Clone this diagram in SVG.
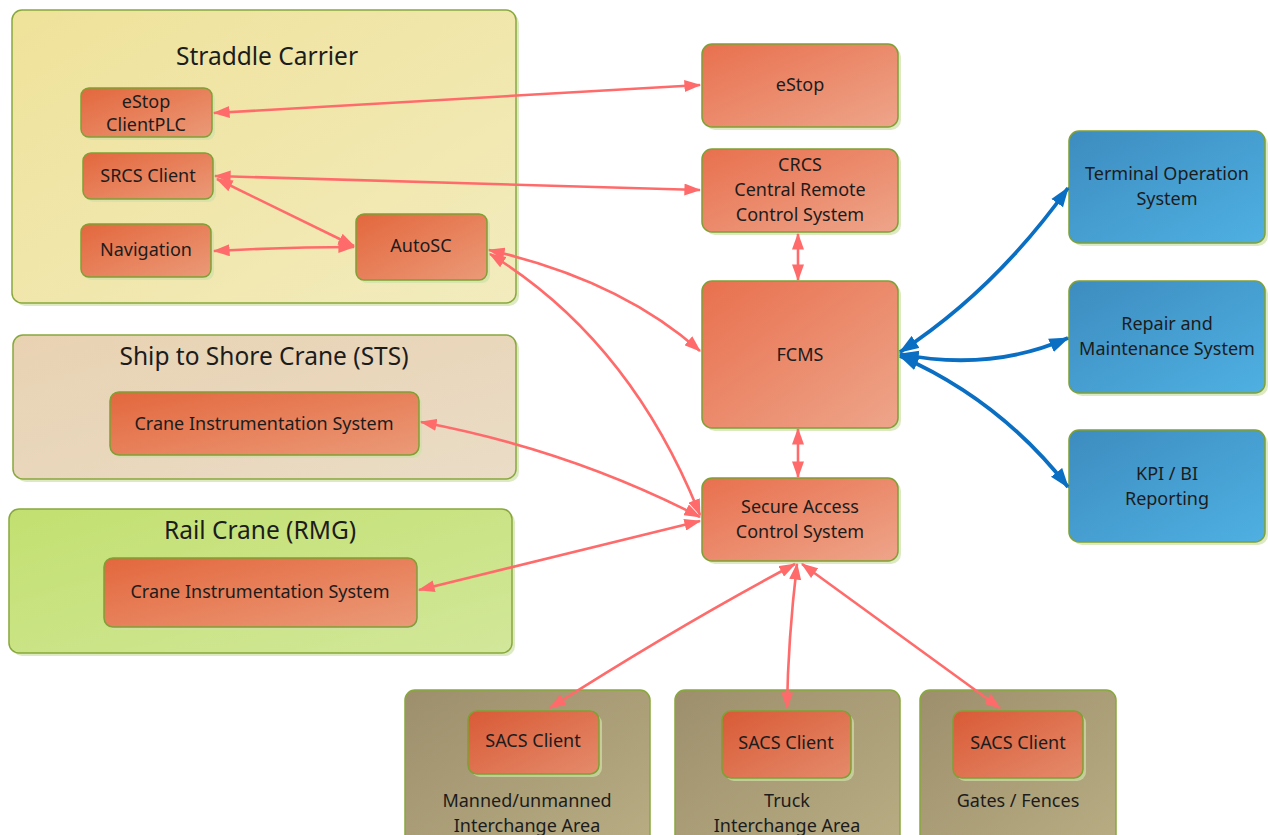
<svg xmlns="http://www.w3.org/2000/svg" width="1268" height="835" viewBox="0 0 1268 835">
  <style>
    text { font-family: "Noto Sans", "Open Sans", "Liberation Sans", sans-serif; fill: #1c1c1c; text-anchor: middle; }
    .lbl { font-size: 18px; }
    .ttl { font-size: 24.5px; }
    .frame { stroke: #88a83c; stroke-width: 1.5; }
    .node { stroke: #7fa035; stroke-width: 1.5; }
    .shadow { fill: #cfe0a8; opacity: 0.7; }
    .link { fill: none; stroke: #ff6b6b; stroke-width: 2.6; marker-start: url(#ah); marker-end: url(#ah); }
    .blink { fill: none; stroke: #0a6fc2; stroke-width: 3.8; marker-start: url(#bh); marker-end: url(#bh); }
  </style>
  <defs>
    <linearGradient id="gOrange" x1="0" y1="0" x2="1" y2="1">
      <stop offset="0" stop-color="#e8704e"/>
      <stop offset="1" stop-color="#eea58a"/>
    </linearGradient>
    <linearGradient id="gOrangeDeep" x1="0" y1="0" x2="1" y2="1">
      <stop offset="0" stop-color="#e3673d"/>
      <stop offset="1" stop-color="#eb9a78"/>
    </linearGradient>
    <linearGradient id="gSacs" x1="0" y1="0" x2="1" y2="1">
      <stop offset="0" stop-color="#d95a36"/>
      <stop offset="1" stop-color="#e48b6b"/>
    </linearGradient>
    <linearGradient id="gBlue" x1="0" y1="0" x2="1" y2="1">
      <stop offset="0" stop-color="#3d8cbf"/>
      <stop offset="1" stop-color="#4fb0e2"/>
    </linearGradient>
    <linearGradient id="gStraddle" x1="0" y1="0" x2="1" y2="1">
      <stop offset="0" stop-color="#efe29a"/>
      <stop offset="1" stop-color="#f2ebbd"/>
    </linearGradient>
    <linearGradient id="gSts" x1="0" y1="0" x2="1" y2="1">
      <stop offset="0" stop-color="#e8d2b2"/>
      <stop offset="1" stop-color="#eadcc6"/>
    </linearGradient>
    <linearGradient id="gRmg" x1="0" y1="0" x2="1" y2="1">
      <stop offset="0" stop-color="#c2e070"/>
      <stop offset="1" stop-color="#d2e79a"/>
    </linearGradient>
    <linearGradient id="gArea" x1="0" y1="0" x2="1" y2="1">
      <stop offset="0" stop-color="#9d8f6c"/>
      <stop offset="1" stop-color="#b8ad83"/>
    </linearGradient>
    <marker id="ah" viewBox="0 0 14 10" refX="13" refY="5" markerWidth="17" markerHeight="12" markerUnits="userSpaceOnUse" orient="auto-start-reverse">
      <path d="M0,0 L14,5 L0,10 Z" fill="#ff6b6b"/>
    </marker>
    <marker id="bh" viewBox="0 0 14 10" refX="13" refY="5" markerWidth="20" markerHeight="15" markerUnits="userSpaceOnUse" orient="auto-start-reverse">
      <path d="M0,0 L14,5 L0,10 Z" fill="#0a6fc2"/>
    </marker>
  </defs>

  <rect width="1268" height="835" fill="#ffffff"/>

  <!-- container areas -->
  <g id="straddle-carrier">
    <rect class="shadow" x="15" y="13" width="504" height="293" rx="10"/>
    <rect class="frame" x="12" y="10" width="504" height="293" rx="10" fill="url(#gStraddle)"/>
    <text class="ttl" x="267" y="65">Straddle Carrier</text>
  </g>
  <g id="sts-crane">
    <rect class="shadow" x="16" y="338" width="503" height="144" rx="10"/>
    <rect class="frame" x="13" y="335" width="503" height="144" rx="10" fill="url(#gSts)"/>
    <text class="ttl" x="264" y="365">Ship to Shore Crane (STS)</text>
  </g>
  <g id="rail-crane">
    <rect class="shadow" x="12" y="512" width="503" height="144" rx="10"/>
    <rect class="frame" x="9" y="509" width="503" height="144" rx="10" fill="url(#gRmg)"/>
    <text class="ttl" x="260" y="539">Rail Crane (RMG)</text>
  </g>
  <g id="area-manned">
    <rect class="frame" x="405" y="690" width="245" height="160" rx="10" fill="url(#gArea)"/>
    <text class="lbl" x="527" y="807">Manned/unmanned</text>
    <text class="lbl" x="527" y="832">Interchange Area</text>
  </g>
  <g id="area-truck">
    <rect class="frame" x="675" y="690" width="225" height="160" rx="10" fill="url(#gArea)"/>
    <text class="lbl" x="787" y="807">Truck</text>
    <text class="lbl" x="787" y="832">Interchange Area</text>
  </g>
  <g id="area-gates">
    <rect class="frame" x="920" y="690" width="196" height="160" rx="10" fill="url(#gArea)"/>
    <text class="lbl" x="1018" y="807">Gates / Fences</text>
  </g>

  <!-- nodes inside the straddle carrier -->
  <g id="estop-client">
    <rect class="shadow" x="84" y="91" width="131" height="49" rx="8"/>
    <rect class="node" x="81" y="88" width="131" height="49" rx="8" fill="url(#gOrangeDeep)"/>
    <text class="lbl" x="146" y="108">eStop</text>
    <text class="lbl" x="146" y="131">ClientPLC</text>
  </g>
  <g id="srcs-client">
    <rect class="shadow" x="86" y="156" width="130" height="46" rx="8"/>
    <rect class="node" x="83" y="153" width="130" height="46" rx="8" fill="url(#gOrangeDeep)"/>
    <text class="lbl" x="148" y="182">SRCS Client</text>
  </g>
  <g id="navigation">
    <rect class="shadow" x="84" y="227" width="130" height="53" rx="8"/>
    <rect class="node" x="81" y="224" width="130" height="53" rx="8" fill="url(#gOrangeDeep)"/>
    <text class="lbl" x="146" y="256">Navigation</text>
  </g>
  <g id="autosc">
    <rect class="shadow" x="359" y="217" width="131" height="66" rx="8"/>
    <rect class="node" x="356" y="214" width="131" height="66" rx="8" fill="url(#gOrangeDeep)"/>
    <text class="lbl" x="421" y="252">AutoSC</text>
  </g>

  <!-- crane instrumentation nodes -->
  <g id="sts-cis">
    <rect class="shadow" x="113" y="395" width="309" height="63" rx="9"/>
    <rect class="node" x="110" y="392" width="309" height="63" rx="9" fill="url(#gOrangeDeep)"/>
    <text class="lbl" x="264" y="430">Crane Instrumentation System</text>
  </g>
  <g id="rmg-cis">
    <rect class="shadow" x="107" y="561" width="313" height="69" rx="9"/>
    <rect class="node" x="104" y="558" width="313" height="69" rx="9" fill="url(#gOrangeDeep)"/>
    <text class="lbl" x="260" y="598">Crane Instrumentation System</text>
  </g>

  <!-- central systems -->
  <g id="estop">
    <rect class="shadow" x="705" y="47" width="196" height="83" rx="10"/>
    <rect class="node" x="702" y="44" width="196" height="83" rx="10" fill="url(#gOrange)"/>
    <text class="lbl" x="800" y="91">eStop</text>
  </g>
  <g id="crcs">
    <rect class="shadow" x="705" y="152" width="196" height="83" rx="10"/>
    <rect class="node" x="702" y="149" width="196" height="83" rx="10" fill="url(#gOrange)"/>
    <text class="lbl" x="800" y="171">CRCS</text>
    <text class="lbl" x="800" y="196">Central Remote</text>
    <text class="lbl" x="800" y="221">Control System</text>
  </g>
  <g id="fcms">
    <rect class="shadow" x="705" y="284" width="196" height="147" rx="10"/>
    <rect class="node" x="702" y="281" width="196" height="147" rx="10" fill="url(#gOrange)"/>
    <text class="lbl" x="800" y="361">FCMS</text>
  </g>
  <g id="sacs">
    <rect class="shadow" x="705" y="481" width="196" height="83" rx="10"/>
    <rect class="node" x="702" y="478" width="196" height="83" rx="10" fill="url(#gOrange)"/>
    <text class="lbl" x="800" y="513">Secure Access</text>
    <text class="lbl" x="800" y="538">Control System</text>
  </g>

  <!-- external systems -->
  <g id="tos">
    <rect class="shadow" x="1072" y="134" width="196" height="112" rx="10"/>
    <rect class="node" x="1069" y="131" width="196" height="112" rx="10" fill="url(#gBlue)"/>
    <text class="lbl" x="1167" y="180">Terminal Operation</text>
    <text class="lbl" x="1167" y="205">System</text>
  </g>
  <g id="rms">
    <rect class="shadow" x="1072" y="284" width="196" height="112" rx="10"/>
    <rect class="node" x="1069" y="281" width="196" height="112" rx="10" fill="url(#gBlue)"/>
    <text class="lbl" x="1167" y="330">Repair and</text>
    <text class="lbl" x="1167" y="355">Maintenance System</text>
  </g>
  <g id="kpi">
    <rect class="shadow" x="1072" y="433" width="196" height="112" rx="10"/>
    <rect class="node" x="1069" y="430" width="196" height="112" rx="10" fill="url(#gBlue)"/>
    <text class="lbl" x="1167" y="480">KPI / BI</text>
    <text class="lbl" x="1167" y="505">Reporting</text>
  </g>

  <!-- SACS clients -->
  <g id="sacs-client-manned">
    <rect class="shadow" x="471" y="714" width="131" height="63" rx="9"/>
    <rect class="node" x="468" y="711" width="131" height="63" rx="9" fill="url(#gSacs)"/>
    <text class="lbl" x="533" y="747">SACS Client</text>
  </g>
  <g id="sacs-client-truck">
    <rect class="shadow" x="725" y="714" width="129" height="67" rx="9"/>
    <rect class="node" x="722" y="711" width="129" height="67" rx="9" fill="url(#gSacs)"/>
    <text class="lbl" x="786" y="749">SACS Client</text>
  </g>
  <g id="sacs-client-gates">
    <rect class="shadow" x="956" y="714" width="130" height="67" rx="9"/>
    <rect class="node" x="953" y="711" width="130" height="67" rx="9" fill="url(#gSacs)"/>
    <text class="lbl" x="1018" y="749">SACS Client</text>
  </g>

  <!-- connectors -->
  <g id="connectors">
    <path class="link" d="M214,113 L700,85"/>
    <path class="link" d="M215,176 L700,190"/>
    <path class="link" d="M217,179 L354,246"/>
    <path class="link" d="M214,251 Q290,247 354,247"/>
    <path class="link" d="M489,250 Q620,280 700,351"/>
    <path class="link" d="M490,254 Q630,340 700,515"/>
    <path class="link" d="M798,234 L798,280"/>
    <path class="link" d="M798,429 L798,477"/>
    <path class="link" d="M421,422 Q570,450 700,517"/>
    <path class="link" d="M419,590 L700,521"/>
    <path class="link" d="M795,564 Q680,625 550,708"/>
    <path class="link" d="M797,564 Q788,640 787,708"/>
    <path class="link" d="M802,564 L1000,708"/>
    <path class="blink" d="M900,352 Q995,290 1068,188"/>
    <path class="blink" d="M900,354 Q990,372 1068,338"/>
    <path class="blink" d="M900,356 Q1000,400 1068,487"/>
  </g>
</svg>
